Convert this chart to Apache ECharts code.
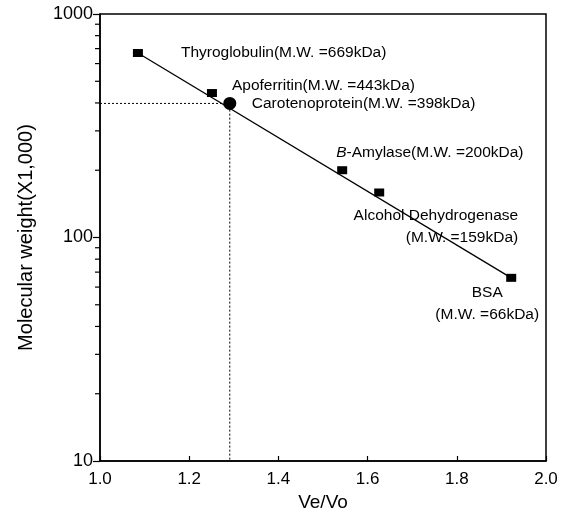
<!DOCTYPE html>
<html>
<head>
<meta charset="utf-8">
<style>
    html, body { margin: 0; padding: 0; background: #fff; }
    #chart { width: 563px; height: 518px; }
</style>
<script src="https://cdn.jsdelivr.net/npm/echarts@6/dist/echarts.min.js"></script>
</head>
<body>
<div id="chart"></div>
<script>
    'use strict';

    // proteins (Ve/Vo, M.W. in kDa)
    var proteinNames = ['Thyroglobulin', 'Apoferritin', 'Carotenoprotein', 'B-Amylase', 'Alcohol Dehydrogenase', 'BSA'];
    var veVo = [1.085, 1.251, 1.291, 1.543, 1.626, 1.922];
    var molWeight = [669, 443, 398, 200, 159, 66];

    // calibration line end points
    var fitLine = [[1.085, 669], [1.922, 66]];

    // reading lines for the unknown sample
    var sampleGuide = [[1.0, 398], [1.291, 398], [1.291, 10]];

    var xTicks = [1.0, 1.2, 1.4, 1.6, 1.8, 2.0];
    var yMinorTicks = [20, 30, 40, 50, 60, 70, 80, 90, 200, 300, 400, 500, 600, 700, 800, 900];

    var FONT = '"Liberation Sans", Arial, sans-serif';

    // per point label look
    var labelStyles = [
        { text: 'Thyroglobulin(M.W. =669kDa)', align: 'left', offset: [43, 0] },
        { text: 'Apoferritin(M.W. =443kDa)', align: 'left', offset: [20, -7] },
        { text: 'Carotenoprotein(M.W. =398kDa)', align: 'left', offset: [22, 0] },
        { text: '{i|B}-Amylase(M.W. =200kDa)', align: 'left', offset: [-6, -18] },
        { text: 'Alcohol Dehydrogenase\n(M.W. =159kDa)', align: 'right', offset: [139, 34] },
        { text: 'BSA\n(M.W. =66kDa)', align: 'center', offset: [-24, 26] }
    ];

    var pointData = proteinNames.map(function (name, i) {
        var isSample = name === 'Carotenoprotein';
        var ls = labelStyles[i];
        return {
            name: name,
            value: [veVo[i], molWeight[i]],
            symbol: isSample ? 'circle' : 'rect',
            symbolSize: isSample ? 13 : [10, 8],
            label: {
                show: true,
                position: 'inside',
                formatter: ls.text,
                align: ls.align,
                offset: ls.offset
            }
        };
    });

    var chart = echarts.init(document.getElementById('chart'));

    chart.setOption({
        animation: false,
        textStyle: { fontFamily: FONT, color: '#000' },
        grid: {
            left: 100, right: 17, top: 14, bottom: 57,
            show: true, borderColor: '#000', borderWidth: 1.5
        },
        xAxis: {
            type: 'value',
            min: 1.0,
            max: 2.0,
            interval: 0.2,
            name: 'Ve/Vo',
            nameLocation: 'middle',
            nameGap: 22,
            nameTextStyle: { fontSize: 19, color: '#000', fontFamily: FONT, verticalAlign: 'top' },
            axisLine: { lineStyle: { color: '#000', width: 1.5 } },
            axisTick: { inside: true, length: 5, lineStyle: { color: '#000', width: 1.2 } },
            axisLabel: {
                fontSize: 17, color: '#000', fontFamily: FONT, margin: 10,
                formatter: function (v) { return v.toFixed(1); }
            },
            splitLine: { show: false }
        },
        yAxis: {
            type: 'log',
            logBase: 10,
            min: 10,
            max: 1000,
            name: 'Molecular weight(X1,000)',
            nameLocation: 'middle',
            nameGap: 64,
            nameTextStyle: { fontSize: 20, color: '#000', fontFamily: FONT },
            axisLine: { lineStyle: { color: '#000', width: 1.5 } },
            axisTick: { inside: false, length: 7, lineStyle: { color: '#000', width: 1.2 } },
            axisLabel: {
                fontSize: 18, color: '#000', fontFamily: FONT, margin: 7,
                formatter: function (v) { return String(Math.round(v)); }
            },
            splitLine: { show: false }
        },
        series: [
            {
                // minor log ticks on the y axis
                type: 'custom',
                silent: true,
                clip: false,
                data: yMinorTicks.map(function (v) { return [1.0, v]; }),
                renderItem: function (params, api) {
                    var p = api.coord([api.value(0), api.value(1)]);
                    return {
                        type: 'line',
                        shape: { x1: p[0] - 5, y1: p[1], x2: p[0], y2: p[1] },
                        style: { stroke: '#000', lineWidth: 1.2 }
                    };
                }
            },
            {
                type: 'line',
                data: sampleGuide,
                symbol: 'none',
                silent: true,
                lineStyle: { color: '#000', width: 1, type: [2, 2] }
            },
            {
                type: 'line',
                data: fitLine,
                symbol: 'none',
                silent: true,
                lineStyle: { color: '#000', width: 1.3 }
            },
            {
                type: 'scatter',
                data: pointData,
                itemStyle: { color: '#000', opacity: 1 },
                label: {
                    color: '#000',
                    fontSize: 15.5,
                    fontFamily: FONT,
                    lineHeight: 22,
                    verticalAlign: 'middle',
                    rich: {
                        i: { fontStyle: 'italic', fontSize: 15.5, fontFamily: FONT, color: '#000' }
                    }
                },
                z: 5
            }
        ]
    });
</script>
</body>
</html>
